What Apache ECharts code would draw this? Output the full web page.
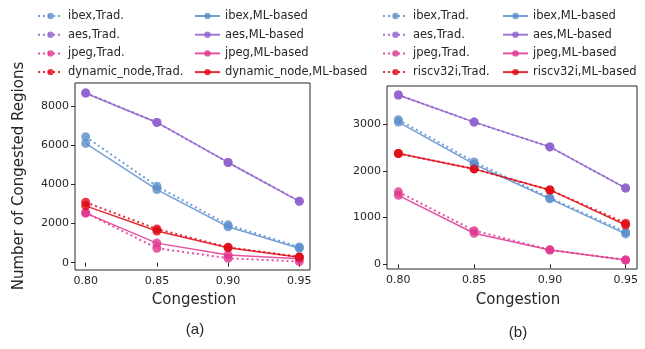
<!DOCTYPE html>
<html>
<head>
<meta charset="utf-8">
<script src="https://cdn.jsdelivr.net/npm/echarts@6/dist/echarts.min.js"></script>
<style>
html,body{margin:0;padding:0;background:#fff;}
#c{width:645px;height:349px;}
</style>
</head>
<body>
<div id="c"></div>
<script>
// ---- data ----
const congestion = [0.80, 0.85, 0.90, 0.95];
const xTicks = [0.80, 0.85, 0.90, 0.95];
const yTicksA = [0, 2000, 4000, 6000, 8000];
const yTicksB = [0, 1000, 2000, 3000];

const designsA = ['ibex', 'aes', 'jpeg', 'dynamic_node'];
const designsB = ['ibex', 'aes', 'jpeg', 'riscv32i'];

const ibexTradA = [6420, 3900, 1930, 800];
const ibexMLA   = [6080, 3730, 1830, 740];
const aesTradA  = [8660, 7150, 5110, 3140];
const aesMLA    = [8640, 7150, 5110, 3130];
const jpegTradA = [2550, 740, 230, 60];
const jpegMLA   = [2530, 1000, 400, 200];
const dynTradA  = [3080, 1720, 790, 300];
const dynMLA    = [2900, 1620, 760, 280];

const ibexTradB = [3090, 2190, 1420, 690];
const ibexMLB   = [3040, 2140, 1400, 650];
const aesTradB  = [3620, 3040, 2510, 1630];
const aesMLB    = [3620, 3040, 2510, 1630];
const jpegTradB = [1550, 720, 310, 95];
const jpegMLB   = [1475, 665, 305, 92];
const riscTradB = [2370, 2040, 1590, 880];
const riscMLB   = [2370, 2040, 1590, 840];

const colors = ['#5b8fcc', '#9060cc', '#e0358f', '#e00814'];
const FONT = 'DejaVu Sans';

const tradA = [ibexTradA, aesTradA, jpegTradA, dynTradA];
const mlA = [ibexMLA, aesMLA, jpegMLA, dynMLA];
const tradB = [ibexTradB, aesTradB, jpegTradB, riscTradB];
const mlB = [ibexMLB, aesMLB, jpegMLB, riscMLB];

function mk(name, vals, color, dotted, gi) {
  return {
    type: 'line', name: name, xAxisIndex: gi, yAxisIndex: gi,
    data: congestion.map((c, i) => [c, vals[i]]),
    symbol: 'circle', symbolSize: 9,
    itemStyle: { color: color, opacity: 0.8 },
    lineStyle: { color: color, width: dotted ? 2 : 1.5, type: dotted ? [2, 3] : 'solid', opacity: 0.85 },
    emphasis: { disabled: true },
    animation: false
  };
}

const series = [];
designsA.forEach((d, k) => series.push(mk(d + ',Trad.', tradA[k], colors[k], true, 0)));
designsA.forEach((d, k) => series.push(mk(d + ',ML-based', mlA[k], colors[k], false, 0)));
designsB.forEach((d, k) => series.push(mk(d + ',Trad.', tradB[k], colors[k], true, 1)));
designsB.forEach((d, k) => series.push(mk(d + ',ML-based', mlB[k], colors[k], false, 1)));

function legend(names, left) {
  return {
    orient: 'vertical', left: left, top: 5, itemWidth: 25, itemHeight: 8, itemGap: 6.7,
    data: names, selectedMode: false,
    textStyle: { fontFamily: FONT, fontSize: 11.5, color: '#262626', padding: [0, 0, 0, 0] }
  };
}

function xAxis(gi) {
  return {
    type: 'value', gridIndex: gi, min: 0.7925, max: 0.9575,
    axisLine: { show: false },
    splitLine: { show: false },
    axisTick: { show: true, length: 4, customValues: xTicks, lineStyle: { color: '#262626' } },
    axisLabel: { customValues: xTicks, fontFamily: FONT, fontSize: 11, color: '#262626', margin: 6,
      formatter: v => v.toFixed(2) }
  };
}
function yAxis(gi, min, max, ticks) {
  return {
    type: 'value', gridIndex: gi, min: min, max: max,
    axisLine: { show: false },
    splitLine: { show: false },
    axisTick: { show: true, length: 4, customValues: ticks, lineStyle: { color: '#262626' } },
    axisLabel: { customValues: ticks, fontFamily: FONT, fontSize: 11, color: '#262626', margin: 6,
      formatter: v => String(Math.round(v)) }
  };
}

const chart = echarts.init(document.getElementById('c'));
chart.setOption({
  backgroundColor: '#fff',
  animation: false,
  grid: [
    { left: 75, top: 83, width: 235, height: 187, show: true, borderColor: '#262626', borderWidth: 1, backgroundColor: 'transparent' },
    { left: 387, top: 86, width: 250, height: 183, show: true, borderColor: '#262626', borderWidth: 1, backgroundColor: 'transparent' }
  ],
  xAxis: [xAxis(0), xAxis(1)],
  yAxis: [yAxis(0, -370, 9160, yTicksA), yAxis(1, -100, 3812, yTicksB)],
  legend: [
    legend(designsA.map(d => d + ',Trad.'), 32),
    legend(designsA.map(d => d + ',ML-based'), 189),
    legend(designsB.map(d => d + ',Trad.'), 377),
    legend(designsB.map(d => d + ',ML-based'), 497)
  ],
  series: series,
  graphic: [
    { type: 'text', x: 19, y: 176, rotation: Math.PI / 2,
      style: { text: 'Number of Congested Regions', font: '15px "DejaVu Sans"', fill: '#262626', align: 'center', verticalAlign: 'middle' } },
    { type: 'text', x: 194, y: 300,
      style: { text: 'Congestion', font: '15px "DejaVu Sans"', fill: '#262626', align: 'center', verticalAlign: 'middle' } },
    { type: 'text', x: 518, y: 300,
      style: { text: 'Congestion', font: '15px "DejaVu Sans"', fill: '#262626', align: 'center', verticalAlign: 'middle' } },
    { type: 'text', x: 195, y: 330,
      style: { text: '(a)', font: '15px "Liberation Sans"', fill: '#262626', align: 'center', verticalAlign: 'middle' } },
    { type: 'text', x: 518, y: 333,
      style: { text: '(b)', font: '15px "Liberation Sans"', fill: '#262626', align: 'center', verticalAlign: 'middle' } }
  ]
});
</script>
</body>
</html>
